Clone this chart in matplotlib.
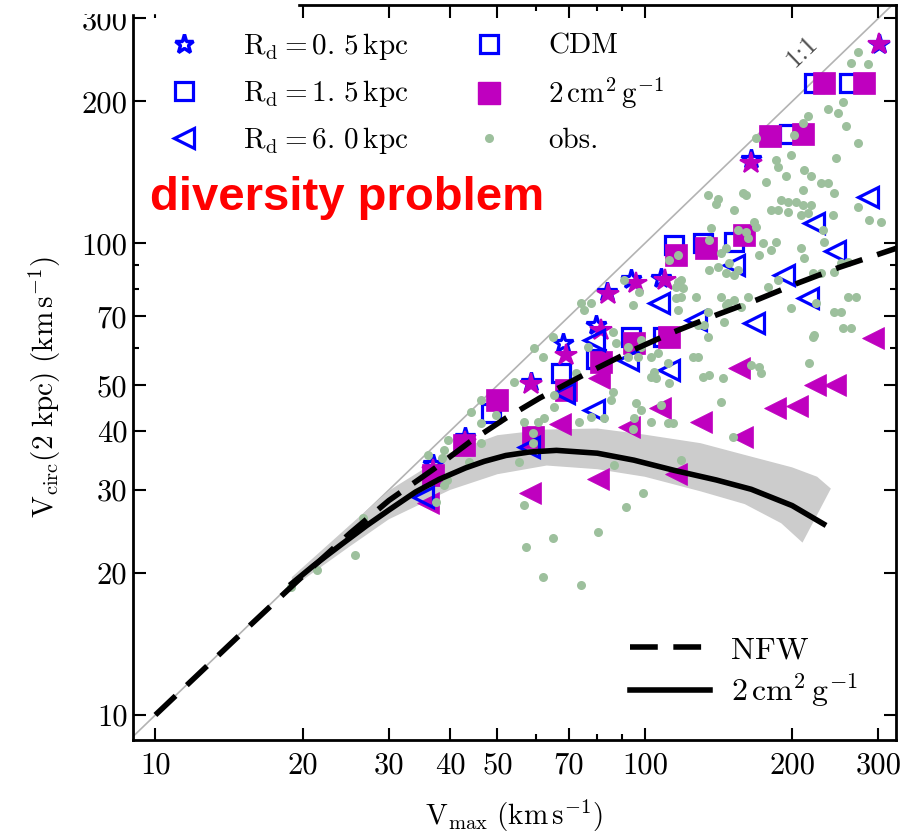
import matplotlib
matplotlib.use("Agg")
import matplotlib.pyplot as plt
from matplotlib.lines import Line2D
from matplotlib.patches import Rectangle
from matplotlib.ticker import FixedLocator, FixedFormatter, NullFormatter

plt.rcParams['font.family'] = 'cmr10'
plt.rcParams['mathtext.fontset'] = 'cm'
plt.rcParams['axes.formatter.use_mathtext'] = True

# --- data (km/s) ---
tick_vals = [10, 20, 30, 40, 50, 70, 100, 200, 300]
tick_labels = ['10', '20', '30', '40', '50', '70', '100', '200', '300']
minor_vals = [60, 80, 90]

# simulated halos, R_d = 0.5 kpc (stars)
cdm_star_x = [36.9, 43.0, 58.5, 68.0, 79.4, 83.6, 93.6, 108, 165, 301]
cdm_star_y = [34.0, 38.8, 50.8, 61.4, 67.0, 79.0, 84.0, 84.5, 151, 265]
sidm_star_x = [36.9, 43.0, 58.5, 68.9, 81.3, 84.0, 96.0, 110, 165, 301]
sidm_star_y = [33.0, 38.0, 50.3, 57.9, 65.4, 78.0, 82.3, 83.5, 148, 265]

# R_d = 1.5 kpc (squares)
cdm_sq_x = [36.9, 42.7, 48.4, 59.0, 67.3, 79.4, 93.6, 108.8, 114.6, 131.4, 152, 180, 197, 221.6, 261]
cdm_sq_y = [32.2, 37.3, 43.6, 38.8, 53.0, 57.0, 63.2, 63.2, 99, 100, 100.5, 169, 171, 219, 219]
sidm_sq_x = [36.9, 42.7, 50.0, 59.0, 68.9, 81.3, 95.0, 112, 115.7, 133.3, 159.4, 180, 210.4, 232, 280.5]
sidm_sq_y = [32.2, 37.3, 46.5, 38.8, 48.8, 56.0, 61.4, 63.2, 94.3, 98, 104, 169, 171, 219, 219]

# R_d = 6.0 kpc (left triangles)
cdm_tri_x = [35.3, 57.9, 68.3, 78.7, 78.7, 92.3, 106.8, 112, 127.2, 152, 167, 192.4, 215.4, 221.6, 244.7, 285.8]
cdm_tri_y = [29.0, 37.0, 48.1, 62.3, 44.3, 56.5, 74.6, 53.8, 68.7, 89.8, 67.7, 85.5, 76.5, 110.3, 96.2, 125.2]
sidm_tri_x = [36.0, 58.2, 67.0, 80.1, 80.5, 92.8, 107.3, 115.7, 130.2, 155.7, 157.9, 184.4, 204.6, 222.6, 244.7, 292.6]
sidm_tri_y = [28.1, 29.5, 41.5, 31.6, 51.8, 40.7, 44.7, 32.4, 41.8, 54.3, 38.8, 44.7, 45.3, 50.2, 50.0, 62.9]

# observed galaxies
obs_x = [272.6, 263.8, 285.8, 254.1, 236.7, 248.1, 257.6, 215.4, 210.4, 201.7,
         168.7, 272.6, 198.9, 246, 185.3, 187.1, 194.3, 211.4, 218.5, 229,
         236.7, 243.5, 176.8, 158.6, 160.9, 134.5, 141.1, 139.7, 210.4, 189.7,
         196.1, 203.6, 210.4, 218.5, 181, 187.1, 196.1, 208.4, 215.4, 152.1,
         242.4, 272.6, 287.2, 303.8, 167.1, 168.7, 155, 160.9, 136.5, 135.2,
         162.4, 174.3, 185.3, 181, 171.1, 231.2, 232.3, 208.4, 211.4, 229,
         243.5, 260.1, 146.4, 141.1, 135.2, 146.4, 152.1, 187.1, 178.4, 143,
         152.1, 157.2, 162.4, 146.4, 145, 198.9, 223.7, 251.7, 270.1, 263.8,
         221.6, 216.5, 171.1, 134.5, 143, 148.5, 155, 116.8, 112, 118.5,
         119.6, 118.5, 97.2, 90.6, 94.5, 77.5, 116.8, 147.8, 134.5, 128.4,
         132, 172.7, 135.2, 106.3, 111.4, 86, 87.3, 98.1, 76.4, 128.4,
         74, 75, 64.9, 59.3, 61.9, 54, 46.2, 44.1, 49.6, 39.7,
         38.8, 36, 46.2, 65.2, 73.3, 77.5, 82.4, 86, 85.2, 92.3,
         96.7, 102.9, 112, 111.4, 114.1, 95, 95.8, 102.9, 125.4, 131.4,
         143, 144.3, 164.8, 151.4, 220.6, 243.5, 254.1, 260.1, 220.6, 251.7,
         118.5, 99, 91.4, 56.6, 37.4, 39.5, 80.2, 64.9, 57.1, 127.2,
         115.7, 115.7, 116.8, 56.6, 60.4, 62.2, 65.2, 38.6, 46.2, 43.7,
         59, 59, 55.3, 86.4, 38.8, 61.9, 74, 104.3, 105.3, 98.1,
         92.3, 98.1, 102.9, 107.8, 94.5, 72.3, 26.5, 25.6, 21.4, 18.9]
obs_y = [254, 241.8, 240.6, 199, 193.2, 188.6, 177.8, 186.7, 179.6, 169.4,
         167, 162.9, 153.6, 152.1, 149.9, 144.9, 139.3, 142.8, 139.3, 134,
         134, 127.6, 134.7, 128.2, 126.4, 126.4, 124.5, 121.5, 129.5, 123.3,
         122.1, 122.1, 120.4, 120.4, 117.5, 117.5, 116.3, 114.6, 115.8, 117.5,
         114.6, 119.2, 111.9, 110.8, 110.8, 108.1, 106.5, 105.5, 107.6, 101.5,
         102.5, 100, 100.5, 96.6, 94.3, 106.5, 100.5, 97.6, 92.9, 86.4,
         86.8, 91.1, 97.6, 89, 87.7, 86.4, 85.5, 83.5, 80.7, 76.9,
         75.7, 73.2, 76.9, 73.9, 68, 72.8, 74.6, 71.4, 76.9, 66.1,
         63.8, 55.7, 54.6, 63.2, 95.2, 90.7, 87.7, 94.3, 92, 83.5,
         80.3, 76.9, 78.7, 83.5, 73.9, 74.6, 72.1, 74.6, 71.4, 67,
         67, 53, 52.5, 58.5, 55.7, 64.8, 61.4, 60.2, 60.2, 57.4,
         74.6, 72.1, 63.2, 59.9, 57.4, 50.8, 46.5, 43.9, 43.2, 38.2,
         36.4, 35.5, 41.6, 47.6, 41.8, 42.8, 42.6, 48.3, 46.5, 57.4,
         57.4, 57.4, 50.5, 41.6, 41.6, 42.6, 45.8, 52, 57.4, 52,
         46, 51.8, 55.1, 38.8, 63.2, 71.4, 66.1, 76.9, 86.4, 90.7,
         34.7, 29.5, 27.6, 27.9, 28.3, 31.5, 24.4, 23.7, 22.7, 76.9,
         80.7, 76.5, 82.7, 41.8, 41.8, 42.6, 44.9, 35, 37.7, 34.4,
         39.6, 37.7, 34.4, 33.9, 30.7, 19.6, 18.9, 53.3, 51.8, 62.3,
         60.2, 44.3, 41.8, 45.4, 40.4, 53, 26.1, 21.8, 20.3, 18.7]

# model curves
nfw_x = [10, 15, 20, 25, 30, 37, 44, 52, 61, 76, 95, 113, 140, 170, 205, 250, 330]
nfw_y = [10, 14.9, 19.7, 24.3, 28.5, 33.2, 38.0, 42.6, 47.0, 53.0, 59.5, 64.5, 70.5, 76.0, 82.3, 89.0, 98.0]
sidm_x = [19, 21, 24, 27, 30, 34, 38, 43, 47, 52, 58, 66, 80, 95, 115, 140, 165, 200, 232]
sidm_y = [19, 20.7, 23, 25.2, 27.2, 29.7, 31.6, 33.4, 34.5, 35.5, 36.1, 36.4, 35.9, 34.7, 33.0, 31.5, 30.1, 27.8, 25.4]
band_hi_x = [19, 25, 30, 40, 50, 63, 80, 100, 130, 160, 200, 225, 240]
band_hi_y = [19.6, 25.3, 29.9, 36.0, 39.2, 40.3, 40.5, 39.3, 37.7, 35.6, 33.5, 32.0, 30.2]
band_lo_x = [19, 25, 30, 40, 50, 63, 80, 100, 130, 160, 190, 210]
band_lo_y = [18.6, 22.8, 26.0, 30.0, 32.4, 33.8, 33.2, 32.0, 29.8, 28.0, 25.5, 23.2]

blue = 'b'
mag = '#bf00bf'
green = '#9dc09d'

fig = plt.figure(figsize=(9.11, 8.35), dpi=100)
ax = fig.add_axes([0.146, 0.1138, 0.8375, 0.880])
ax.set_xscale('log')
ax.set_yscale('log')

ax.plot([8, 400], [8, 400], color='0.7', lw=1.2, zorder=0.5)
ax.fill(band_hi_x + band_lo_x[::-1], band_hi_y + band_lo_y[::-1],
        color='0.8', lw=0, zorder=1)

ax.plot(cdm_sq_x, cdm_sq_y, ls='none', marker='s', ms=13, mfc='none', mec=blue, mew=2.3, zorder=2)
ax.plot(sidm_sq_x, sidm_sq_y, ls='none', marker='s', ms=16, mfc=mag, mec=mag, mew=0.5, zorder=3)
ax.plot(cdm_star_x, cdm_star_y, ls='none', marker='*', ms=15, mfc='none', mec=blue, mew=2.3, zorder=2)
ax.plot(sidm_star_x, sidm_star_y, ls='none', marker='*', ms=16, mfc=mag, mec=mag, mew=1.5, zorder=3)
ax.plot(sidm_tri_x, sidm_tri_y, ls='none', marker='<', ms=16, mfc=mag, mec=mag, mew=0.5, zorder=3)
ax.plot(cdm_tri_x, cdm_tri_y, ls='none', marker='<', ms=14, mfc='none', mec=blue, mew=2.3, zorder=3.5)

ax.plot(obs_x, obs_y, ls='none', marker='o', ms=6.5, mfc=green, mec='none', zorder=4)

ax.plot(nfw_x, nfw_y, color='k', lw=4, dashes=(5, 2.8), zorder=5)
ax.plot(sidm_x, sidm_y, color='k', lw=4, zorder=5)

ax.text(210, 256, '1:1', rotation=44, ha='center', va='center',
        fontsize=19, color='0.3', rotation_mode='anchor')

ax.set_xlim(9.0, 326)
ax.set_ylim(8.85, 320)
for axis in (ax.xaxis, ax.yaxis):
    axis.set_major_locator(FixedLocator(tick_vals))
    axis.set_major_formatter(FixedFormatter(tick_labels))
    axis.set_minor_locator(FixedLocator(minor_vals))
    axis.set_minor_formatter(NullFormatter())
ax.tick_params(which='both', direction='in', top=True, right=True, width=1.5, labelsize=22)
ax.tick_params(which='major', length=9)
ax.tick_params(which='minor', length=4.5)
ax.tick_params(axis='x', pad=9)
ax.tick_params(axis='y', pad=4)
for sp in ax.spines.values():
    sp.set_linewidth(2)

ax.set_xlabel(r'$\mathrm{V_{max}\ (km\,s^{-1})}$', fontsize=21)
ax.set_ylabel(r'$\mathrm{V_{circ}(2\ kpc)\ (km\,s^{-1})}$', fontsize=21)
ax.xaxis.set_label_coords(0.5, -0.079)
ax.yaxis.set_label_coords(-0.092, 0.48)

h = [
    Line2D([], [], ls='none', marker='*', ms=14, mfc='none', mec=blue, mew=2.5),
    Line2D([], [], ls='none', marker='s', ms=13, mfc='none', mec=blue, mew=2.3),
    Line2D([], [], ls='none', marker='<', ms=14, mfc='none', mec=blue, mew=2.3),
    Line2D([], [], ls='none', marker='s', ms=13, mfc='none', mec=blue, mew=2.3),
    Line2D([], [], ls='none', marker='s', ms=16, mfc=mag, mec=mag),
    Line2D([], [], ls='none', marker='o', ms=6.5, mfc=green, mec='none'),
]
labels = [r'$\mathrm{R_d=0.\,5\,kpc}$', r'$\mathrm{R_d=1.\,5\,kpc}$', r'$\mathrm{R_d=6.\,0\,kpc}$',
          'CDM', r'$\mathrm{2\,cm^2\,g^{-1}}$', 'obs.']
leg1 = ax.legend(h, labels, ncol=2, loc='upper left', bbox_to_anchor=(0.038, 0.965),
                 frameon=False, fontsize=21, borderpad=0, borderaxespad=0,
                 handlelength=1.5, handletextpad=1.28, columnspacing=2.0,
                 labelspacing=0.55, numpoints=1)
ax.add_artist(leg1)

h2 = [Line2D([], [], color='k', lw=4, dashes=(5, 2.8)), Line2D([], [], color='k', lw=4)]
ax.legend(h2, ['NFW', r'$\mathrm{2\,cm^2\,g^{-1}}$'], loc='lower right',
          bbox_to_anchor=(0.95, 0.042), frameon=False, fontsize=23, borderpad=0,
          borderaxespad=0, handlelength=2.5, handletextpad=0.65, labelspacing=0.22)

fig.text(150 / 911, 1 - 198 / 835, 'diversity problem', color='red', fontsize=34,
         fontweight='bold', family='Liberation Sans', va='center', ha='left')

# white patch over the top-left corner, as in the source image
fig.patches.append(Rectangle((60 / 911, 1 - 13 / 835), 237 / 911, 13 / 835,
                             transform=fig.transFigure, color='white', zorder=10))

fig.savefig('out.png', dpi=100)
